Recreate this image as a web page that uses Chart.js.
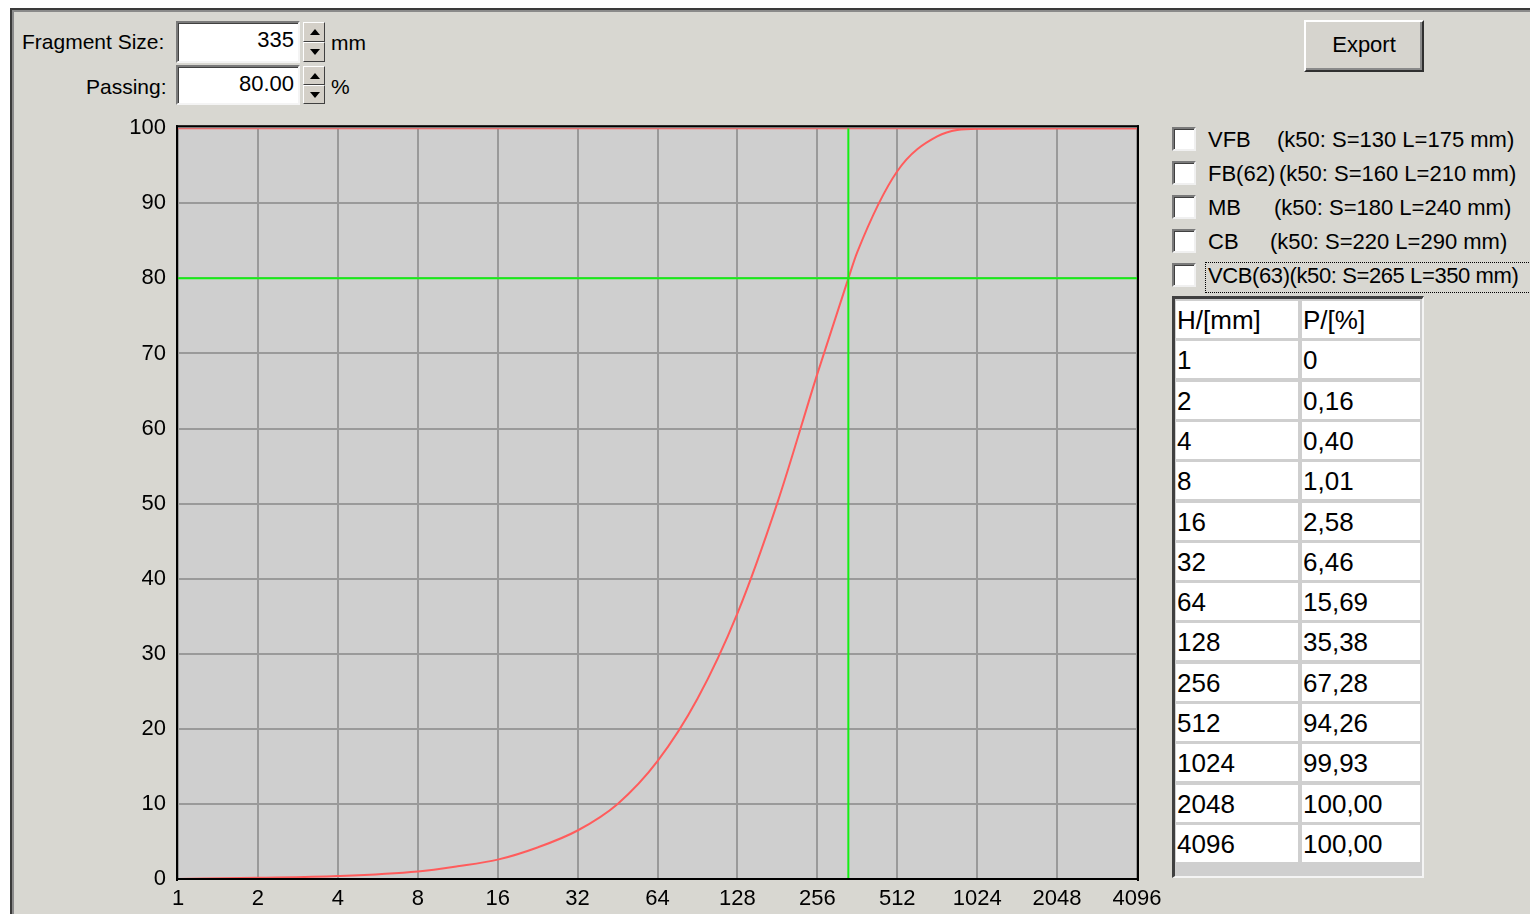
<!DOCTYPE html>
<html>
<head>
<meta charset="utf-8">
<script src="https://cdn.jsdelivr.net/npm/chart.js@4.4.1/dist/chart.umd.min.js"></script>
<style>
  html, body { margin:0; padding:0; background:#ffffff; width:1530px; height:914px; overflow:hidden; }
  body { font-family: "Liberation Sans", Arial, sans-serif; color:#000; position:relative; }
  #dlg { position:absolute; left:10px; top:8px; width:1530px; height:920px; background:#d8d7d1;
         border-left:2px solid #3a3a3a; border-top:2px solid #3a3a3a; box-shadow: inset 2px 2px 0 #8a8a8a; }
  .lbl { position:absolute; font-size:21px; white-space:nowrap; }
  .edit { position:absolute; background:#fff; box-sizing:border-box;
          border-top:2px solid #7a7a7a; border-left:2px solid #7a7a7a; border-right:2px solid #f4f4f4; border-bottom:2px solid #f4f4f4;
          box-shadow: inset 1px 1px 0 #404040; font-size:22px; text-align:right; padding-right:4px; line-height:34px; }
  .spin { position:absolute; width:22px; box-sizing:border-box; background:#d4d0c8; }
  .spinbtn { position:absolute; left:0; width:22px; box-sizing:border-box; background:#d4d0c8;
             border-top:1px solid #fff; border-left:1px solid #fff; border-right:1px solid #404040; border-bottom:1px solid #404040; }
  .tri-up { position:absolute; left:6px; width:0; height:0; border-left:5px solid transparent; border-right:5px solid transparent; border-bottom:6px solid #000; }
  .tri-dn { position:absolute; left:6px; width:0; height:0; border-left:5px solid transparent; border-right:5px solid transparent; border-top:6px solid #000; }
  #export { position:absolute; left:1304px; top:20px; width:120px; height:52px; box-sizing:border-box; background:#d6d4ce;
            border-top:2px solid #ffffff; border-left:2px solid #ffffff; border-right:2px solid #303030; border-bottom:2px solid #303030;
            box-shadow: inset -2px -2px 0 #8a8a8a; font-size:22px; text-align:center; line-height:46px; }
  .cb { position:absolute; width:24px; height:24px; box-sizing:border-box; background:#fff;
        border-top:2px solid #7a7a7a; border-left:2px solid #7a7a7a; border-right:2px solid #f0f0f0; border-bottom:2px solid #f0f0f0;
        box-shadow: inset 1px 1px 0 #404040; }
  .cbt { position:absolute; font-size:22px; white-space:nowrap; line-height:28px; }
  #focus { position:absolute; border:1px dotted #000; }
  #tbl { position:absolute; left:1172px; top:296px; width:252px; height:582px; box-sizing:border-box; background:#cfcfcf;
         border-left:3px solid #404040; border-top:3px solid #404040; border-right:2px solid #f4f4f4; border-bottom:2px solid #f4f4f4; }
  .cell { position:absolute; background:#fff; font-size:26px; line-height:38px; white-space:nowrap; padding-left:1px; box-sizing:border-box; }
  #chartBox { position:absolute; left:100px; top:103px; width:1080px; height:811px; }
</style>
</head>
<body>
<div id="dlg"></div>

<div class="lbl" style="left:22px; top:30px;">Fragment Size:</div>
<div class="edit" style="left:176px; top:21px; width:124px; height:42px;" id="fsBox"></div>
<div class="lbl" style="left:331px; top:31px;">mm</div>

<div class="lbl" style="left:86px; top:75px;">Passing:</div>
<div class="edit" style="left:176px; top:65px; width:124px; height:40px;" id="psBox"></div>
<div class="lbl" style="left:331px; top:75px;">%</div>

<div id="export">Export</div>

<div id="checks"></div>
<div id="tbl"></div>

<div id="chartBox"><canvas id="c" width="1080" height="811"></canvas></div>

<script>
// ---------- data ----------
const fragmentSize = 335;     // mm (green vertical line)
const passing = 80.00;        // % (green horizontal line)

const xTickValues = [1, 2, 4, 8, 16, 32, 64, 128, 256, 512, 1024, 2048, 4096];
const yTickValues = [0, 10, 20, 30, 40, 50, 60, 70, 80, 90, 100];

// table values (H/[mm], P/[%])
const tableSizes   = ["1", "2", "4", "8", "16", "32", "64", "128", "256", "512", "1024", "2048", "4096"];
const tablePassing = ["0", "0,16", "0,40", "1,01", "2,58", "6,46", "15,69", "35,38", "67,28", "94,26", "99,93", "100,00", "100,00"];

// curve points (size mm, passing %)
const curveSizes   = [1, 2, 4, 8, 11.3, 16, 22.6, 32, 45.3, 64, 90.5, 128, 181, 256, 335, 362, 512, 724, 1024, 2048, 4096];
const curvePassing = [0, 0.16, 0.40, 1.01, 1.7, 2.58, 4.2, 6.46, 10.0, 15.69, 24.0, 35.38, 50.1, 67.28, 80.0, 83.5, 94.26, 98.9, 99.93, 100, 100];

// red top line at 100 % across the plot
const topLineSizes = [1, 4096];
const topLinePassing = [100, 100];

const checkNames  = ["VFB", "FB(62)", "MB", "CB", "VCB(63)"];
const checkParams = ["(k50: S=130 L=175 mm)", "(k50: S=160 L=210 mm)", "(k50: S=180 L=240 mm)", "(k50: S=220 L=290 mm)", "(k50: S=265 L=350 mm)"];

// ---------- widgets ----------
document.getElementById('fsBox').textContent = String(fragmentSize);
document.getElementById('psBox').textContent = passing.toFixed(2);

function spinner(left, top, h) {
  const s = document.createElement('div');
  s.className = 'spin'; s.style.left = left + 'px'; s.style.top = top + 'px'; s.style.height = h + 'px';
  const half = Math.floor(h / 2);
  const b1 = document.createElement('div'); b1.className = 'spinbtn'; b1.style.top = '0px'; b1.style.height = half + 'px';
  const t1 = document.createElement('div'); t1.className = 'tri-up'; t1.style.top = (half/2 - 4) + 'px'; b1.appendChild(t1);
  const b2 = document.createElement('div'); b2.className = 'spinbtn'; b2.style.top = half + 'px'; b2.style.height = (h - half) + 'px';
  const t2 = document.createElement('div'); t2.className = 'tri-dn'; t2.style.top = ((h-half)/2 - 4) + 'px'; b2.appendChild(t2);
  s.appendChild(b1); s.appendChild(b2);
  document.body.appendChild(s);
}
spinner(303, 22, 40);
spinner(303, 66, 38);

const checksEl = document.getElementById('checks');
const paramX = [1277, 1279, 1274, 1270, null];
checkNames.forEach((n, i) => {
  const y = 127 + i * 34;
  const cb = document.createElement('div'); cb.className = 'cb'; cb.style.left = '1172px'; cb.style.top = y + 'px';
  checksEl.appendChild(cb);
  const t = document.createElement('div'); t.className = 'cbt'; t.style.left = '1208px'; t.style.top = (y - 1) + 'px';
  if (paramX[i] === null) {
    t.textContent = n + checkParams[i];
    t.style.letterSpacing = '-0.4px';
    checksEl.appendChild(t);
  } else {
    t.textContent = n; checksEl.appendChild(t);
    const p = document.createElement('div'); p.className = 'cbt'; p.style.left = paramX[i] + 'px'; p.style.top = (y - 1) + 'px';
    p.textContent = checkParams[i]; checksEl.appendChild(p);
  }
});
const f = document.createElement('div');
f.id = 'focus'; f.style.left = '1205px'; f.style.top = '262px'; f.style.width = '330px'; f.style.height = '29px';
document.body.appendChild(f);

// table
const tbl = document.getElementById('tbl');
const rows = [["H/[mm]", "P/[%]"]].concat(tableSizes.map((s, i) => [s, tablePassing[i]]));
rows.forEach((r, i) => {
  const top = 2 + i * 40.3;
  const c1 = document.createElement('div'); c1.className = 'cell';
  c1.style.left = '1px'; c1.style.top = top + 'px'; c1.style.width = '122px'; c1.style.height = '37px';
  c1.textContent = r[0]; tbl.appendChild(c1);
  const c2 = document.createElement('div'); c2.className = 'cell';
  c2.style.left = '127px'; c2.style.top = top + 'px'; c2.style.width = '118px'; c2.style.height = '37px';
  c2.textContent = r[1]; tbl.appendChild(c2);
});

// ---------- chart ----------
const toPts = (xs, ys) => xs.map((x, i) => ({ x: x, y: ys[i] }));

const framePlugin = {
  id: 'frame',
  beforeDraw(chart) {
    const a = chart.chartArea, ctx = chart.ctx;
    ctx.save(); ctx.fillStyle = '#cfcfcf';
    ctx.fillRect(a.left, a.top, a.right - a.left, a.bottom - a.top);
    ctx.restore();
  },
  afterDatasetsDraw(chart) {
    const a = chart.chartArea, ctx = chart.ctx;
    ctx.save(); ctx.fillStyle = '#000';
    ctx.fillRect(a.left - 2, a.top - 3, a.right - a.left + 4, 2);   // top
    ctx.fillRect(a.left - 2, a.top - 3, 2, a.bottom - a.top + 5);    // left
    ctx.fillRect(a.right, a.top - 3, 2, a.bottom - a.top + 5);       // right
    ctx.fillRect(a.left - 2, a.bottom - 1, a.right - a.left + 4, 2); // bottom
    ctx.restore();
  }
};

new Chart(document.getElementById('c'), {
  type: 'line',
  data: {
    datasets: [
      { label: 'Passing level', data: toPts([1, 4096], [passing, passing]), borderColor: '#14ef14', borderWidth: 2, pointRadius: 0, tension: 0 },
      { label: 'Fragment size', data: toPts([fragmentSize, fragmentSize], [0, 100]), borderColor: '#14ef14', borderWidth: 2, pointRadius: 0, tension: 0 },
      { label: 'Top', data: toPts(topLineSizes, topLinePassing), borderColor: '#ff5c5c', borderWidth: 2, pointRadius: 0, tension: 0 },
      { label: 'Passing curve', data: toPts(curveSizes, curvePassing), borderColor: '#ff5c5c', borderWidth: 2, pointRadius: 0, cubicInterpolationMode: 'monotone' }
    ]
  },
  options: {
    responsive: false,
    animation: false,
    devicePixelRatio: 1,
    layout: { padding: { top: 18, right: 43, left: 0, bottom: 0 } },
    plugins: { legend: { display: false }, tooltip: { enabled: false } },
    scales: {
      x: {
        type: 'logarithmic', min: 1, max: 4096,
        afterBuildTicks(s) { s.ticks = xTickValues.map(v => ({ value: v })); },
        afterFit(s) { s.height = 35; },
        grid: { color: '#9a9a9a', lineWidth: 2, drawTicks: false },
        border: { display: false },
        ticks: { autoSkip: false, maxRotation: 0, padding: 7, color: '#000',
                 font: { family: 'Liberation Sans', size: 22 },
                 callback: (v) => xTickValues.includes(v) ? String(v) : '' }
      },
      y: {
        type: 'linear', min: 0, max: 100,
        afterBuildTicks(s) { s.ticks = yTickValues.map(v => ({ value: v })); },
        afterFit(s) { s.width = 78; },
        grid: { color: '#9a9a9a', lineWidth: 2, drawTicks: false },
        border: { display: false },
        ticks: { padding: 12, color: '#000', font: { family: 'Liberation Sans', size: 22 } }
      }
    }
  },
  plugins: [framePlugin]
});
</script>
</body>
</html>
